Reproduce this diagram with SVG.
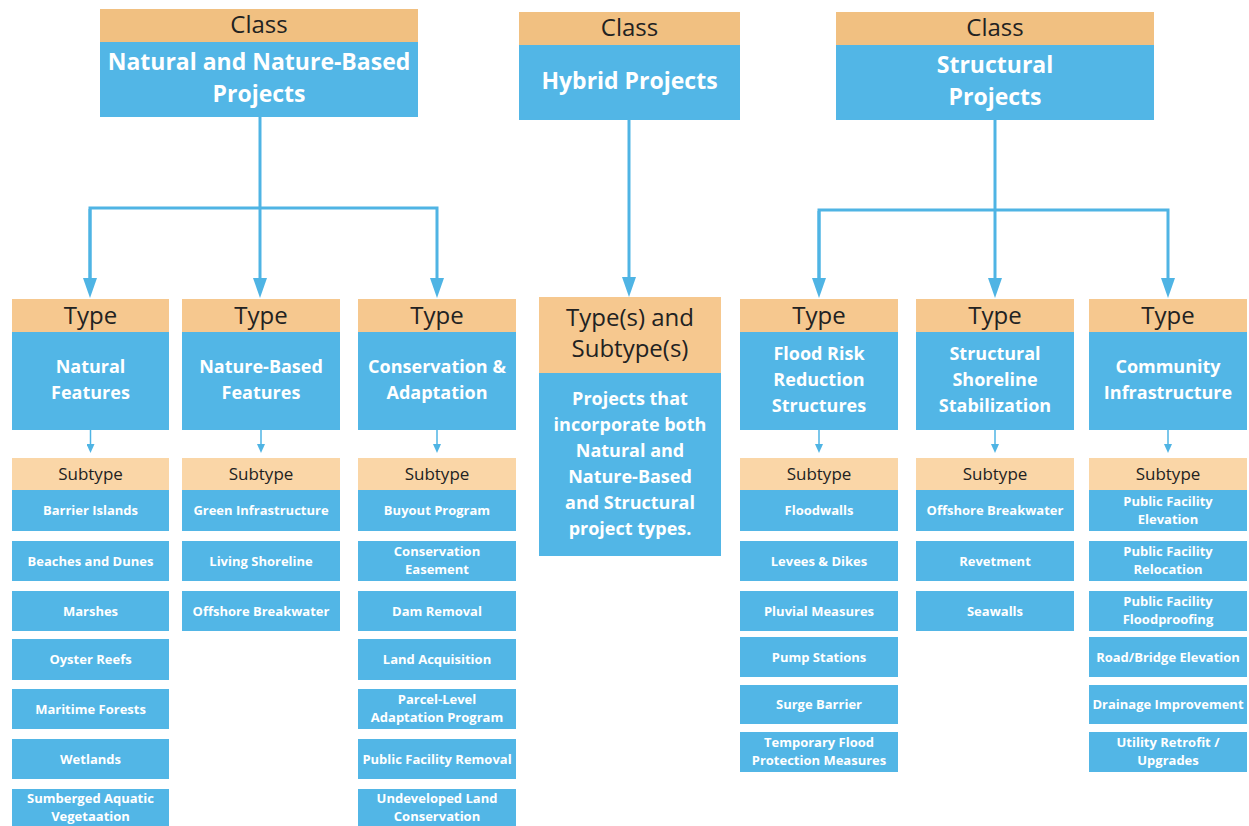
<svg xmlns="http://www.w3.org/2000/svg" width="1249" height="826" viewBox="0 0 1249 826">
<defs>
<style>
.bl{fill:#52b6e6}
.hc{fill:#f1c081}
.ht{fill:#f6c88f}
.hs{fill:#fad6a7}
.hd{font-family:"Open Sans","DejaVu Sans",sans-serif;fill:#222;text-anchor:middle}
.w{font-family:"Open Sans","DejaVu Sans",sans-serif;font-weight:bold;fill:#fff;text-anchor:middle}
.t24{font-size:24px}
.t17{font-size:17px}
.b23{font-size:23px}
.b18{font-size:18px}
.b13{font-size:13px}
.cn{fill:none;stroke:#4fb4e4;stroke-width:3}
.cs{fill:none;stroke:#4fb4e4;stroke-width:1.5}
</style>
<marker id="ah" viewBox="0 0 20 14" refX="0" refY="7" markerWidth="20" markerHeight="14" markerUnits="userSpaceOnUse" orient="auto"><path d="M0,0 L20,7 L0,14 z" fill="#4fb4e4"/></marker>
<marker id="as" viewBox="0 0 9 8" refX="0" refY="4" markerWidth="13" markerHeight="8" markerUnits="userSpaceOnUse" orient="auto"><path d="M0,0 L9,4 L0,8 z" fill="#4fb4e4"/></marker>
</defs>
<rect width="1249" height="826" fill="#fff"/>

<g id="connectors">
<path class="cn" d="M260,117 V278" marker-end="url(#ah)"/>
<path class="cn" d="M90,278 V208 H437 V278" marker-end="url(#ah)"/>
<path class="cn" d="M90,209 V278" marker-end="url(#ah)"/>
<path class="cn" d="M629,120 V277" marker-end="url(#ah)"/>
<path class="cn" d="M995,120 V278" marker-end="url(#ah)"/>
<path class="cn" d="M819,278 V210 H1168 V278" marker-end="url(#ah)"/>
<path class="cn" d="M819,211 V278" marker-end="url(#ah)"/>
<path class="cs" d="M90.5,430 V444" marker-end="url(#as)"/>
<path class="cs" d="M261,430 V444" marker-end="url(#as)"/>
<path class="cs" d="M437,430 V444" marker-end="url(#as)"/>
<path class="cs" d="M819,430 V444" marker-end="url(#as)"/>
<path class="cs" d="M995,430 V444" marker-end="url(#as)"/>
<path class="cs" d="M1168,430 V444" marker-end="url(#as)"/>
</g>

<g id="class-natural">
<rect class="hc" x="100" y="9" width="318" height="33"/>
<rect class="bl" x="100" y="42" width="318" height="75"/>
<text class="hd t24" x="259" y="33">Class</text>
<text class="w b23" x="259" y="70">Natural and Nature-Based</text>
<text class="w b23" x="259" y="102">Projects</text>
</g>
<g id="class-hybrid">
<rect class="hc" x="519" y="12" width="221" height="33"/>
<rect class="bl" x="519" y="45" width="221" height="75"/>
<text class="hd t24" x="629.5" y="36">Class</text>
<text class="w b23" x="629.5" y="89">Hybrid Projects</text>
</g>
<g id="class-structural">
<rect class="hc" x="836" y="12" width="318" height="33"/>
<rect class="bl" x="836" y="45" width="318" height="75"/>
<text class="hd t24" x="995" y="36">Class</text>
<text class="w b23" x="995" y="73">Structural</text>
<text class="w b23" x="995" y="105">Projects</text>
</g>

<g id="type-natural">
<rect class="ht" x="12" y="299" width="157" height="33"/>
<rect class="bl" x="12" y="332" width="157" height="98"/>
<text class="hd t24" x="90.5" y="324">Type</text>
<text class="w b18" x="90.5" y="372.5">Natural</text>
<text class="w b18" x="90.5" y="398.5">Features</text>
</g>
<g id="type-nature-based">
<rect class="ht" x="182" y="299" width="158" height="33"/>
<rect class="bl" x="182" y="332" width="158" height="98"/>
<text class="hd t24" x="261" y="324">Type</text>
<text class="w b18" x="261" y="372.5">Nature-Based</text>
<text class="w b18" x="261" y="398.5">Features</text>
</g>
<g id="type-conservation">
<rect class="ht" x="358" y="299" width="158" height="33"/>
<rect class="bl" x="358" y="332" width="158" height="98"/>
<text class="hd t24" x="437" y="324">Type</text>
<text class="w b18" x="437" y="372.5">Conservation &amp;</text>
<text class="w b18" x="437" y="398.5">Adaptation</text>
</g>
<g id="type-hybrid">
<rect class="ht" x="539" y="297" width="182" height="76"/>
<rect class="bl" x="539" y="373" width="182" height="183"/>
<text class="hd t24" x="630" y="326">Type(s) and</text>
<text class="hd t24" x="630" y="357">Subtype(s)</text>
<text class="w b18" x="630" y="404.5">Projects that</text>
<text class="w b18" x="630" y="430.5">incorporate both</text>
<text class="w b18" x="630" y="456.5">Natural and</text>
<text class="w b18" x="630" y="482.5">Nature-Based</text>
<text class="w b18" x="630" y="508.5">and Structural</text>
<text class="w b18" x="630" y="534.5">project types.</text>
</g>
<g id="type-flood">
<rect class="ht" x="740" y="299" width="158" height="33"/>
<rect class="bl" x="740" y="332" width="158" height="98"/>
<text class="hd t24" x="819" y="324">Type</text>
<text class="w b18" x="819" y="359.5">Flood Risk</text>
<text class="w b18" x="819" y="385.5">Reduction</text>
<text class="w b18" x="819" y="411.5">Structures</text>
</g>
<g id="type-shoreline">
<rect class="ht" x="916" y="299" width="158" height="33"/>
<rect class="bl" x="916" y="332" width="158" height="98"/>
<text class="hd t24" x="995" y="324">Type</text>
<text class="w b18" x="995" y="359.5">Structural</text>
<text class="w b18" x="995" y="385.5">Shoreline</text>
<text class="w b18" x="995" y="411.5">Stabilization</text>
</g>
<g id="type-community">
<rect class="ht" x="1089" y="299" width="158" height="33"/>
<rect class="bl" x="1089" y="332" width="158" height="98"/>
<text class="hd t24" x="1168" y="324">Type</text>
<text class="w b18" x="1168" y="372.5">Community</text>
<text class="w b18" x="1168" y="398.5">Infrastructure</text>
</g>

<g id="sub-natural">
<rect class="hs" x="12" y="458" width="157" height="32"/>
<text class="hd t17" x="90.5" y="480">Subtype</text>
<rect class="bl" x="12" y="490" width="157" height="41"/>
<text class="w b13" x="90.5" y="514.5">Barrier Islands</text>
<rect class="bl" x="12" y="541" width="157" height="40"/>
<text class="w b13" x="90.5" y="565.5">Beaches and Dunes</text>
<rect class="bl" x="12" y="591" width="157" height="40"/>
<text class="w b13" x="90.5" y="615.5">Marshes</text>
<rect class="bl" x="12" y="639" width="157" height="41"/>
<text class="w b13" x="90.5" y="663.5">Oyster Reefs</text>
<rect class="bl" x="12" y="689" width="157" height="40"/>
<text class="w b13" x="90.5" y="713.5">Maritime Forests</text>
<rect class="bl" x="12" y="739" width="157" height="40"/>
<text class="w b13" x="90.5" y="763.5">Wetlands</text>
<rect class="bl" x="12" y="789" width="157" height="40"/>
<text class="w b13" x="90.5" y="803">Sumberged Aquatic</text>
<text class="w b13" x="90.5" y="821">Vegetaation</text>
</g>
<g id="sub-nature-based">
<rect class="hs" x="182" y="458" width="158" height="32"/>
<text class="hd t17" x="261" y="480">Subtype</text>
<rect class="bl" x="182" y="490" width="158" height="41"/>
<text class="w b13" x="261" y="514.5">Green Infrastructure</text>
<rect class="bl" x="182" y="541" width="158" height="40"/>
<text class="w b13" x="261" y="565.5">Living Shoreline</text>
<rect class="bl" x="182" y="591" width="158" height="40"/>
<text class="w b13" x="261" y="615.5">Offshore Breakwater</text>
</g>
<g id="sub-conservation">
<rect class="hs" x="358" y="458" width="158" height="32"/>
<text class="hd t17" x="437" y="480">Subtype</text>
<rect class="bl" x="358" y="490" width="158" height="41"/>
<text class="w b13" x="437" y="514.5">Buyout Program</text>
<rect class="bl" x="358" y="541" width="158" height="40"/>
<text class="w b13" x="437" y="555.5">Conservation</text>
<text class="w b13" x="437" y="573.5">Easement</text>
<rect class="bl" x="358" y="591" width="158" height="40"/>
<text class="w b13" x="437" y="615.5">Dam Removal</text>
<rect class="bl" x="358" y="639" width="158" height="41"/>
<text class="w b13" x="437" y="663.5">Land Acquisition</text>
<rect class="bl" x="358" y="689" width="158" height="40"/>
<text class="w b13" x="437" y="703.5">Parcel-Level</text>
<text class="w b13" x="437" y="721.5">Adaptation Program</text>
<rect class="bl" x="358" y="739" width="158" height="40"/>
<text class="w b13" x="437" y="763.5">Public Facility Removal</text>
<rect class="bl" x="358" y="789" width="158" height="40"/>
<text class="w b13" x="437" y="803">Undeveloped Land</text>
<text class="w b13" x="437" y="821">Conservation</text>
</g>
<g id="sub-flood">
<rect class="hs" x="740" y="458" width="158" height="32"/>
<text class="hd t17" x="819" y="480">Subtype</text>
<rect class="bl" x="740" y="490" width="158" height="41"/>
<text class="w b13" x="819" y="514.5">Floodwalls</text>
<rect class="bl" x="740" y="541" width="158" height="40"/>
<text class="w b13" x="819" y="565.5">Levees &amp; Dikes</text>
<rect class="bl" x="740" y="591" width="158" height="40"/>
<text class="w b13" x="819" y="615.5">Pluvial Measures</text>
<rect class="bl" x="740" y="637" width="158" height="40"/>
<text class="w b13" x="819" y="661.5">Pump Stations</text>
<rect class="bl" x="740" y="685" width="158" height="39"/>
<text class="w b13" x="819" y="709">Surge Barrier</text>
<rect class="bl" x="740" y="732" width="158" height="40"/>
<text class="w b13" x="819" y="746.5">Temporary Flood</text>
<text class="w b13" x="819" y="764.5">Protection Measures</text>
</g>
<g id="sub-shoreline">
<rect class="hs" x="916" y="458" width="158" height="32"/>
<text class="hd t17" x="995" y="480">Subtype</text>
<rect class="bl" x="916" y="490" width="158" height="41"/>
<text class="w b13" x="995" y="514.5">Offshore Breakwater</text>
<rect class="bl" x="916" y="541" width="158" height="40"/>
<text class="w b13" x="995" y="565.5">Revetment</text>
<rect class="bl" x="916" y="591" width="158" height="40"/>
<text class="w b13" x="995" y="615.5">Seawalls</text>
</g>
<g id="sub-community">
<rect class="hs" x="1089" y="458" width="158" height="32"/>
<text class="hd t17" x="1168" y="480">Subtype</text>
<rect class="bl" x="1089" y="490" width="158" height="41"/>
<text class="w b13" x="1168" y="505.5">Public Facility</text>
<text class="w b13" x="1168" y="523.5">Elevation</text>
<rect class="bl" x="1089" y="541" width="158" height="40"/>
<text class="w b13" x="1168" y="555.5">Public Facility</text>
<text class="w b13" x="1168" y="573.5">Relocation</text>
<rect class="bl" x="1089" y="591" width="158" height="40"/>
<text class="w b13" x="1168" y="605.5">Public Facility</text>
<text class="w b13" x="1168" y="623.5">Floodproofing</text>
<rect class="bl" x="1089" y="637" width="158" height="40"/>
<text class="w b13" x="1168" y="661.5">Road/Bridge Elevation</text>
<rect class="bl" x="1089" y="685" width="158" height="39"/>
<text class="w b13" x="1168" y="709">Drainage Improvement</text>
<rect class="bl" x="1089" y="732" width="158" height="40"/>
<text class="w b13" x="1168" y="746.5">Utility Retrofit /</text>
<text class="w b13" x="1168" y="764.5">Upgrades</text>
</g>
</svg>
